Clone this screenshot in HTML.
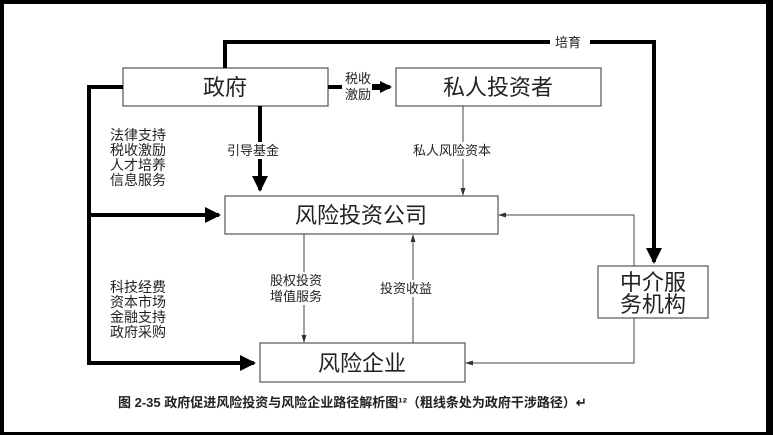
<!DOCTYPE html>
<html><head><meta charset="utf-8"><style>
body{margin:0;background:#000;}
svg{display:block}
text{font-family:"Liberation Sans","Noto Sans CJK SC",sans-serif;fill:#222}
</style></head><body>
<svg width="773" height="435" viewBox="0 0 773 435">
<defs>
<marker id="tk" markerWidth="4" markerHeight="4" refX="3.5" refY="2" orient="auto" markerUnits="strokeWidth"><path d="M0,0 L4,2 L0,4z" fill="#000"/></marker>
<marker id="tn" markerWidth="8" markerHeight="8" refX="7" refY="4" orient="auto" markerUnits="userSpaceOnUse"><path d="M0,1.5 L8,4 L0,6.5z" fill="#333"/></marker>
</defs>
<rect x="4" y="4" width="762" height="428" fill="#fff"/>
<g fill="#fff" stroke="#555" stroke-width="1.2">
<rect x="123" y="68" width="205" height="38"/>
<rect x="396" y="68" width="205" height="38"/>
<rect x="225" y="196" width="273" height="38"/>
<rect x="598" y="266" width="110" height="52"/>
<rect x="260" y="343" width="205" height="39"/>
</g>
<g fill="none" stroke="#000" stroke-width="4">
<polyline points="225,68 225,42 654,42 654,262" marker-end="url(#tk)"/>
<polyline points="123,87 89,87 89,363 254,363" marker-end="url(#tk)"/>
<line x1="89" y1="215" x2="219" y2="215" marker-end="url(#tk)"/>
<line x1="260" y1="106" x2="260" y2="190" marker-end="url(#tk)"/>
<line x1="328" y1="87" x2="390" y2="87" marker-end="url(#tk)"/>
</g>
<rect x="550" y="34" width="40" height="16" fill="#fff"/>
<rect x="342" y="72" width="38" height="34" fill="#fff"/>
<g fill="none" stroke="#444" stroke-width="1">
<line x1="463" y1="106" x2="463" y2="195" marker-end="url(#tn)"/>
<line x1="304" y1="234" x2="304" y2="342" marker-end="url(#tn)"/>
<line x1="413" y1="343" x2="413" y2="235" marker-end="url(#tn)"/>
<polyline points="634,266 634,215 499,215" marker-end="url(#tn)"/>
<polyline points="634,318 634,363 466,363" marker-end="url(#tn)"/>
</g>
<rect x="372" y="84" width="10" height="6" fill="#000"/>
<g fill="#fff">
<rect x="225" y="142" width="56" height="17"/>
<rect x="411" y="142" width="82" height="17"/>
<rect x="268" y="272" width="56" height="33"/>
<rect x="378" y="280" width="56" height="17"/>
</g>
<g font-size="22" text-anchor="middle">
<text x="225" y="95">政府</text>
<text x="498" y="95">私人投资者</text>
<text x="361" y="223">风险投资公司</text>
<text x="653" y="290">中介服</text>
<text x="653" y="312">务机构</text>
<text x="362" y="371">风险企业</text>
</g>
<g font-size="13">
<text x="555" y="47">培育</text>
<text x="345" y="83">税收</text>
<text x="345" y="99">激励</text>
<text x="227" y="155">引导基金</text>
<text x="413" y="155">私人风险资本</text>
<text x="270" y="285">股权投资</text>
<text x="270" y="301">增值服务</text>
<text x="380" y="293">投资收益</text>
</g>
<g font-size="14">
<text x="110" y="140">法律支持</text>
<text x="110" y="155">税收激励</text>
<text x="110" y="170">人才培养</text>
<text x="110" y="185">信息服务</text>
<text x="110" y="292">科技经费</text>
<text x="110" y="307">资本市场</text>
<text x="110" y="322">金融支持</text>
<text x="110" y="337">政府采购</text>
</g>
<text x="118" y="407" font-size="13" font-weight="bold" fill="#111">图 2-35  政府促进风险投资与风险企业路径解析图¹²（粗线条处为政府干涉路径）↵</text>
</svg>
</body></html>
